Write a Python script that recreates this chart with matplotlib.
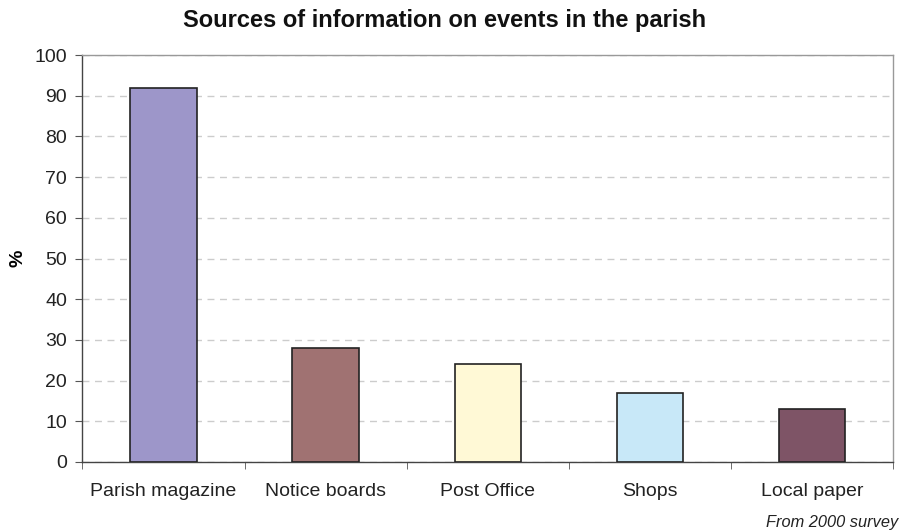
import matplotlib
matplotlib.use("Agg")
import matplotlib.pyplot as plt
import numpy as np

categories = ["Parish magazine", "Notice boards", "Post Office", "Shops", "Local paper"]
values = [92, 28, 24, 17, 13]
colors = ["#9D96C9", "#A07272", "#FFF9D6", "#C8E8F8", "#7E5466"]
yticks = [0, 10, 20, 30, 40, 50, 60, 70, 80, 90, 100]

plt.rcParams['font.family'] = ['Liberation Sans', 'DejaVu Sans']

fig = plt.figure(figsize=(9.04, 5.32), dpi=100)
ax = fig.add_axes([82.5/904, 70/532, (893-82.5)/904, (462-55)/532])

x = np.arange(len(categories))
ax.bar(x, values, width=0.41, color=colors, edgecolor="#222222", linewidth=1.2, zorder=3)

ax.set_xlim(-0.5, len(categories) - 0.5)
ax.set_ylim(0, 100)
ax.set_yticks(yticks)
ax.set_yticklabels([str(t) for t in yticks], fontsize=14, color="#222222")
ax.set_xticks(x)
ax.set_xticklabels(categories, fontsize=14, color="#222222")
ax.tick_params(axis='x', length=0, pad=15)
ax.set_xticks(np.arange(len(categories) + 1) - 0.5, minor=True)
ax.tick_params(axis='x', which='minor', length=5, color="#555555", direction='out')
ax.tick_params(axis='y', length=5, color="#555555", direction='out', pad=6)

ax.yaxis.grid(True, linestyle=(0, (5, 4)), color="#CCCCCC", linewidth=1, zorder=0)
ax.set_axisbelow(True)

for s in ["top", "right"]:
    ax.spines[s].set_color("#999999")
    ax.spines[s].set_linewidth(1)
for s in ["left", "bottom"]:
    ax.spines[s].set_color("#444444")
    ax.spines[s].set_linewidth(1)

ax.set_ylabel("%", fontsize=14, fontweight="bold", labelpad=6)
fig.text(445/904, 1 - 20/532, "Sources of information on events in the parish",
         ha="center", va="center", fontsize=17, fontweight="bold", color="#111111")
fig.text(898/904, 1 - 522/532, "From 2000 survey", ha="right", va="center",
         fontsize=11.8, style="italic", color="#222222")

fig.savefig("out.png", dpi=100)
